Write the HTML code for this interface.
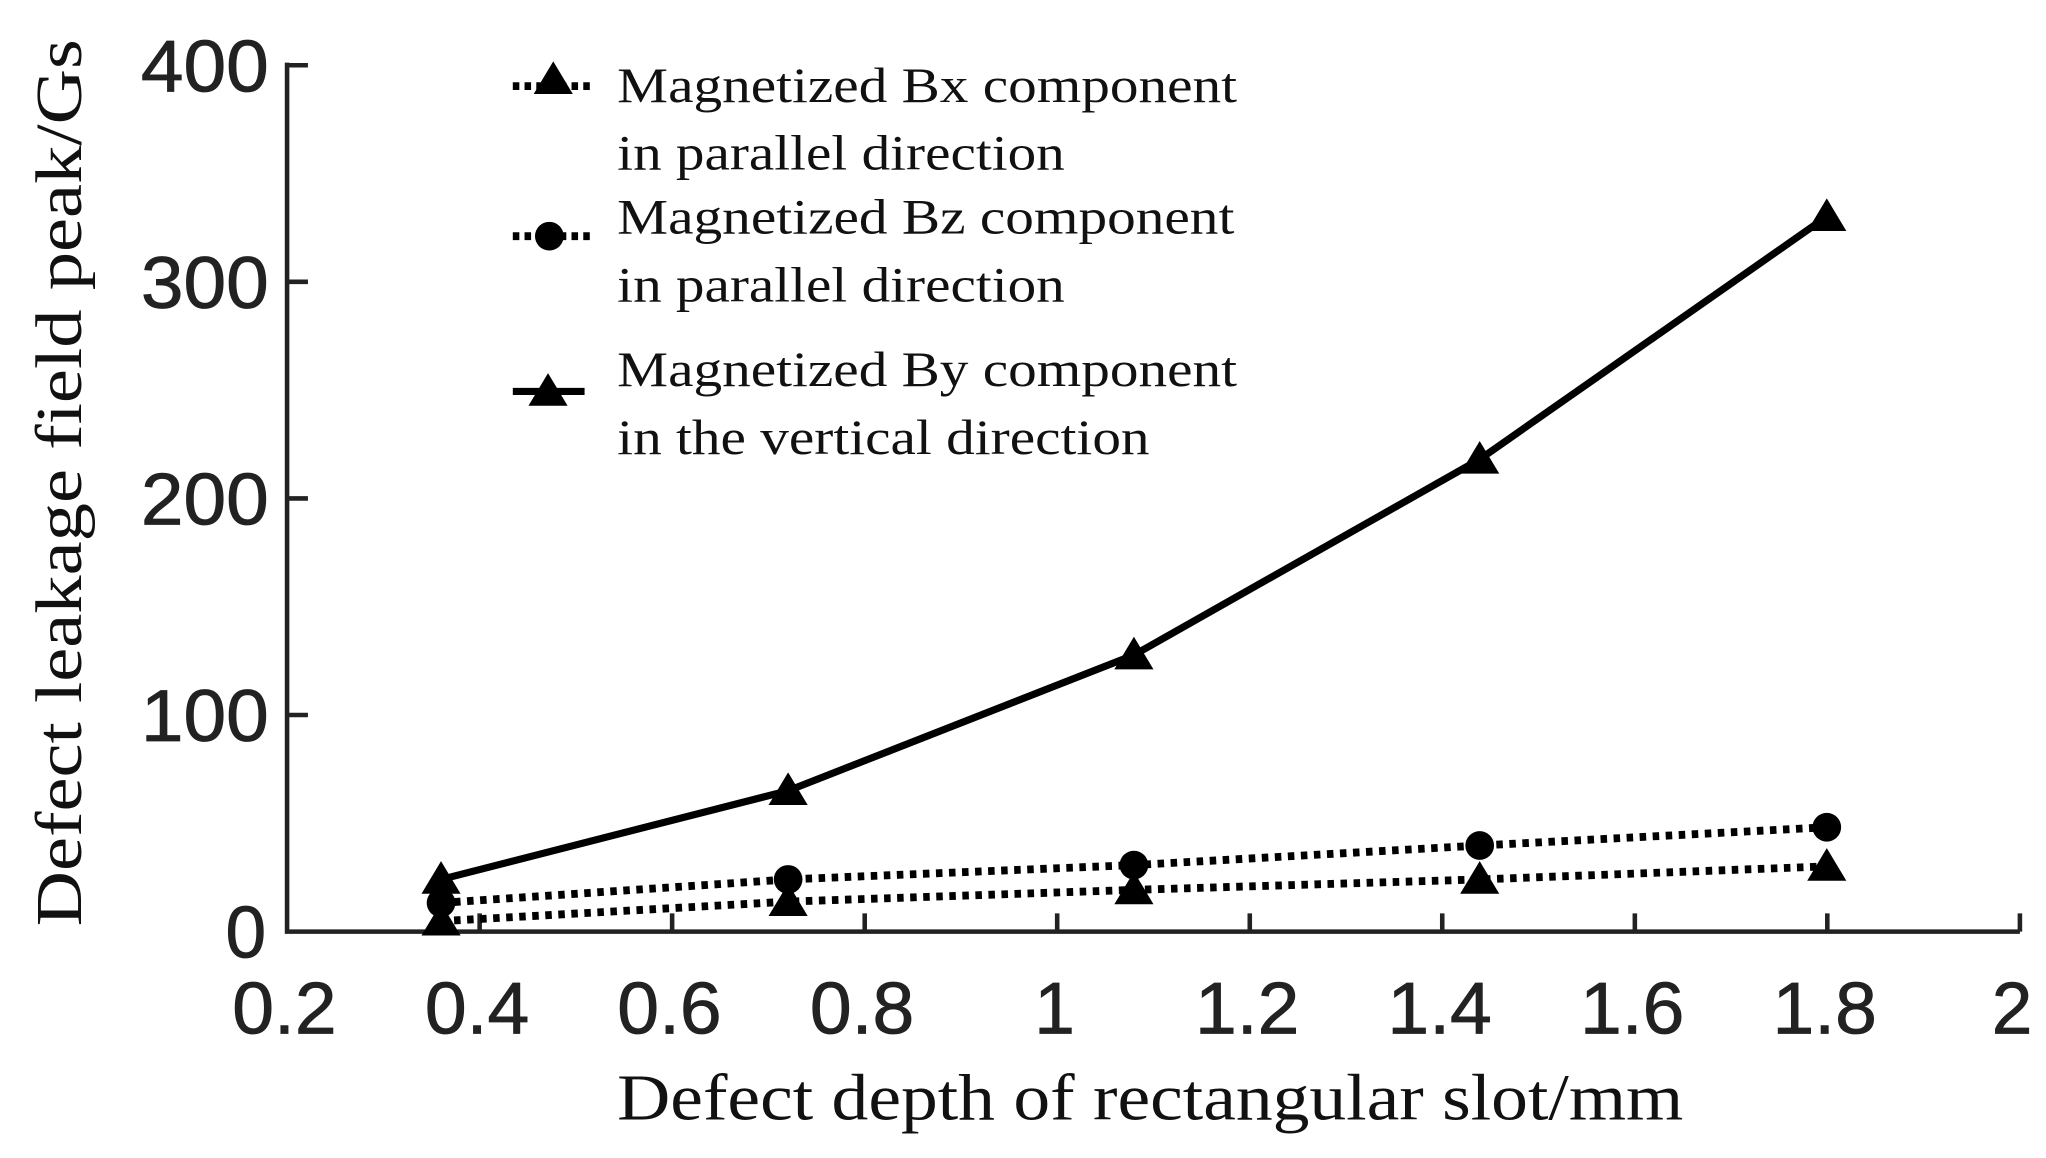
<!DOCTYPE html>
<html><head><meta charset="utf-8"><style>
html,body{margin:0;padding:0;background:#fff;}
svg{display:block;}
</style></head><body>
<svg width="2046" height="1158" viewBox="0 0 1568 887.5" preserveAspectRatio="none" xmlns="http://www.w3.org/2000/svg">
<rect width="1568" height="887.5" fill="#fff"/>
<g stroke="#222" stroke-width="3.5" fill="none">
<path d="M220,48 L220,714 L1548,714"/>
<path d="M220,50 h16 M220,216 h16 M220,382 h16 M220,548 h16"/>
<path d="M367.6,714 v-14 M515.1,714 v-14 M662.7,714 v-14 M810.2,714 v-14 M957.8,714 v-14 M1105.3,714 v-14 M1252.9,714 v-14 M1400.4,714 v-14 M1548,714 v-14"/>
</g>
<g font-family="Liberation Sans, sans-serif" font-size="56" fill="#222" stroke="#222" stroke-width="0.6">
<g text-anchor="end">
<text x="206" y="70" textLength="98" lengthAdjust="spacingAndGlyphs">400</text><text x="206" y="236" textLength="98" lengthAdjust="spacingAndGlyphs">300</text><text x="206" y="402" textLength="98" lengthAdjust="spacingAndGlyphs">200</text><text x="206" y="568" textLength="98" lengthAdjust="spacingAndGlyphs">100</text><text x="204" y="734">0</text>
</g>
<g text-anchor="middle">
<text x="218" y="792" textLength="80" lengthAdjust="spacingAndGlyphs">0.2</text><text x="365.6" y="792" textLength="80" lengthAdjust="spacingAndGlyphs">0.4</text><text x="513.1" y="792" textLength="80" lengthAdjust="spacingAndGlyphs">0.6</text><text x="660.7" y="792" textLength="80" lengthAdjust="spacingAndGlyphs">0.8</text><text x="808.2" y="792">1</text><text x="955.8" y="792" textLength="80" lengthAdjust="spacingAndGlyphs">1.2</text><text x="1103.3" y="792" textLength="80" lengthAdjust="spacingAndGlyphs">1.4</text><text x="1250.9" y="792" textLength="80" lengthAdjust="spacingAndGlyphs">1.6</text><text x="1398.4" y="792" textLength="80" lengthAdjust="spacingAndGlyphs">1.8</text><text x="1542" y="792">2</text>
</g>
</g>
<g font-family="Liberation Serif, serif" fill="#111">
<text x="473" y="858" font-size="50" textLength="817" lengthAdjust="spacingAndGlyphs">Defect depth of rectangular slot/mm</text>
<text transform="translate(62,710) rotate(-90)" font-size="50" textLength="680" lengthAdjust="spacingAndGlyphs">Defect leakage field peak/Gs</text>
<g font-size="38">
<text x="473" y="78" textLength="475" lengthAdjust="spacingAndGlyphs">Magnetized Bx component</text>
<text x="473" y="130" textLength="343" lengthAdjust="spacingAndGlyphs">in parallel direction</text>
<text x="473" y="179" textLength="473" lengthAdjust="spacingAndGlyphs">Magnetized Bz component</text>
<text x="473" y="231" textLength="343" lengthAdjust="spacingAndGlyphs">in parallel direction</text>
<text x="473" y="296" textLength="475" lengthAdjust="spacingAndGlyphs">Magnetized By component</text>
<text x="473" y="348" textLength="408" lengthAdjust="spacingAndGlyphs">in the vertical direction</text>
</g>
</g>
<g stroke="#000" stroke-width="6" fill="#000">
<path d="M393,66 h60" stroke-dasharray="5,4"/>
<path d="M393,181 h60" stroke-dasharray="5,4"/>
<path d="M393,300 h55" stroke-width="5.5"/>
</g>
<g fill="#000">
<path d="M424,47 L439,72 L409,72 Z"/>
<circle cx="421" cy="181" r="11"/>
<path d="M420,286 L435,311 L405,311 Z"/>
</g>
<g fill="none" stroke="#000">
<polyline stroke-width="5.5" points="338,674 604,606 869,502 1134,352 1400,166"/>
<polyline stroke-width="6" stroke-dasharray="5,5" points="338,692 604,674 869,663 1134,648 1400,634"/>
<polyline stroke-width="6" stroke-dasharray="5,5" points="338,706 604,691 869,682 1134,674 1400,664"/>
</g>
<g fill="#000">
<path d="M338,660 l15,25 h-30 Z"/><path d="M604,592 l15,25 h-30 Z"/><path d="M869,488 l15,25 h-30 Z"/><path d="M1134,338 l15,25 h-30 Z"/><path d="M1400,152 l15,25 h-30 Z"/>
<circle cx="338" cy="692" r="11"/><circle cx="604" cy="674" r="11"/><circle cx="869" cy="663" r="11"/><circle cx="1134" cy="648" r="11"/><circle cx="1400" cy="634" r="11"/>
<path d="M338,692 l15,25 h-30 Z"/><path d="M604,677 l15,25 h-30 Z"/><path d="M869,668 l15,25 h-30 Z"/><path d="M1134,660 l15,25 h-30 Z"/><path d="M1400,650 l15,25 h-30 Z"/>
</g>
</svg>
</body></html>
